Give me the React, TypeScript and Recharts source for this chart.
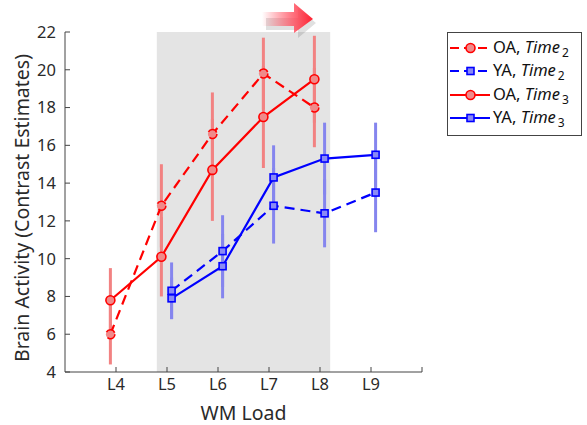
import { ComposedChart, Line, XAxis, YAxis, ErrorBar, ReferenceArea, Label } from 'recharts';

// WM load levels (OA tested on L4-L8, YA on L5-L9)
const loadsOA = [4, 5, 6, 7, 8];
const loadsYA = [5, 6, 7, 8, 9];
const xTicks = [4, 5, 6, 7, 8, 9, 10];
const yTicks = [4, 6, 8, 10, 12, 14, 16, 18, 20, 22];

// small horizontal jitter so the groups don't overlap
const oaOffset = -0.11;
const yaOffset = 0.09;

const oaTime2 = [6.0, 12.8, 16.6, 19.8, 18.0];
const oaTime2Err = [1.6, 2.2, 2.2, 1.9, 2.1];
const oaTime3 = [7.8, 10.1, 14.7, 17.5, 19.5];
const oaTime3Err = [1.7, 2.1, 2.7, 2.7, 2.3];
const yaTime2 = [8.3, 10.4, 12.8, 12.4, 13.5];
const yaTime2Err = [1.5, 1.9, 2.0, 1.8, 2.1];
const yaTime3 = [7.9, 9.6, 14.3, 15.3, 15.5];
const yaTime3Err = [1.1, 1.7, 1.7, 1.9, 1.7];

const shadeFrom = 4.8;
const shadeTo = 8.2;

const build = (loads: number[], offset: number, vals: number[], errs: number[]) =>
  loads.map((l, i) => ({ x: l + offset, y: vals[i], err: errs[i] }));

const RED = '#ff0000';
const BLUE = '#0000ff';
const RED_FILL = '#f08a8a';
const BLUE_FILL = '#8a8af5';
const RED_ERR = '#f28282';
const BLUE_ERR = '#8585ee';
const FONT = '"Noto Sans", "DejaVu Sans", sans-serif';
const TXT = '#2a2a2a';

const SquareDot = (props: any) => {
  const { cx, cy, key } = props;
  if (cx == null || cy == null) return null;
  return <rect key={key} x={cx - 3.5} y={cy - 3.5} width={7} height={7} fill={BLUE_FILL} stroke={BLUE} strokeWidth={1.6} />;
};

const YLabel = (props: any) => {
  const { x, y, height } = props.viewBox;
  const cx = x + 21;
  const cy = y + height / 2 + 6;
  return (
    <text
      x={cx}
      y={cy}
      transform={`rotate(-90 ${cx} ${cy})`}
      textAnchor="middle"
      dominantBaseline="central"
      fill={TXT}
      fontSize={19.5}
      fontFamily={FONT}
    >
      Brain Activity (Contrast Estimates)
    </text>
  );
};

const legendItems = [
  { name: 'OA', sub: '2', color: RED, fill: RED_FILL, dashed: true, square: false },
  { name: 'YA', sub: '2', color: BLUE, fill: BLUE_FILL, dashed: true, square: true },
  { name: 'OA', sub: '3', color: RED, fill: RED_FILL, dashed: false, square: false },
  { name: 'YA', sub: '3', color: BLUE, fill: BLUE_FILL, dashed: false, square: true },
];

function LegendBox() {
  return (
    <div
      style={{
        position: 'absolute',
        left: 447,
        top: 32,
        width: 135,
        height: 104,
        border: '1px solid #444',
        background: '#fff',
        fontFamily: FONT,
        fontSize: 16.5,
        color: '#111',
        boxSizing: 'border-box',
        paddingTop: 3,
      }}
    >
      {legendItems.map((it, i) => (
        <div key={i} style={{ display: 'flex', alignItems: 'center', height: 23.5 }}>
          <svg width={45} height={20} style={{ flex: 'none' }}>
            <line x1={2} y1={10} x2={42} y2={10} stroke={it.color} strokeWidth={2} strokeDasharray={it.dashed ? '9 5' : undefined} />
            {it.square ? (
              <rect x={19} y={6.5} width={7} height={7} fill={it.fill} stroke={it.color} strokeWidth={1.6} />
            ) : (
              <circle cx={22.5} cy={10} r={4.5} fill={it.fill} stroke={it.color} strokeWidth={1.6} />
            )}
          </svg>
          <span style={{ whiteSpace: 'nowrap' }}>
            {it.name}, <i>Time</i>
            <sub style={{ fontSize: 12, marginLeft: 2 }}>{it.sub}</sub>
          </span>
        </div>
      ))}
    </div>
  );
}

function Arrow() {
  return (
    <svg width={80} height={40} style={{ position: 'absolute', left: 250, top: 0 }}>
      <defs>
        <linearGradient id="arrowGrad" x1="0" y1="0" x2="1" y2="0">
          <stop offset="0%" stopColor="#ff4050" stopOpacity={0} />
          <stop offset="60%" stopColor="#ff5060" stopOpacity={0.8} />
          <stop offset="100%" stopColor="#ff2030" stopOpacity={1} />
        </linearGradient>
      </defs>
      <path d="M14 15 L46 15 L46 5 L64 20 L46 35 L46 27 L14 27 Z" fill="rgba(0,0,0,0.12)" transform="translate(2,3)" />
      <path d="M12 12 L44 12 L44 3 L63 19 L44 33 L44 26 L12 26 Z" fill="url(#arrowGrad)" />
    </svg>
  );
}

export default function App() {
  const oa2 = build(loadsOA, oaOffset, oaTime2, oaTime2Err);
  const oa3 = build(loadsOA, oaOffset, oaTime3, oaTime3Err);
  const ya2 = build(loadsYA, yaOffset, yaTime2, yaTime2Err);
  const ya3 = build(loadsYA, yaOffset, yaTime3, yaTime3Err);

  const errOnly = (data: any[], color: string, key: string) => (
    <Line key={key} data={data} dataKey="y" stroke="none" dot={false} activeDot={false} legendType="none" isAnimationActive={false}>
      <ErrorBar dataKey="err" direction="y" width={0} stroke={color} strokeWidth={3} />
    </Line>
  );

  return (
    <div style={{ position: 'absolute', left: 0, top: 0, width: 587, height: 425, background: '#fff' }}>
      <ComposedChart width={587} height={425} margin={{ top: 32, right: 165, left: 0, bottom: 0 }}>
        <ReferenceArea x1={shadeFrom} x2={shadeTo} y1={4} y2={22} fill="#e4e4e4" fillOpacity={1} stroke="none" ifOverflow="hidden" />
        <XAxis
          type="number"
          dataKey="x"
          domain={[3, 10]}
          ticks={xTicks}
          allowDataOverflow
          tickFormatter={(v) => (v === 10 ? '' : `L${v}`)}
          height={53}
          stroke="#444"
          tickSize={-5}
          tickMargin={11}
          tick={{ fill: TXT, fontSize: 16.5, fontFamily: FONT }}
          label={{ value: 'WM Load', position: 'insideBottom', offset: 5, style: { fill: TXT, fontSize: 19.5, fontFamily: FONT } }}
        />
        <YAxis
          type="number"
          domain={[4, 22]}
          ticks={yTicks}
          width={65}
          stroke="#444"
          tickSize={-5}
          tickMargin={14}
          tick={{ fill: TXT, fontSize: 16.5, fontFamily: FONT }}
        >
          <Label content={YLabel} />
        </YAxis>
        {errOnly(oa2, RED_ERR, 'e1')}
        {errOnly(oa3, RED_ERR, 'e2')}
        {errOnly(ya2, BLUE_ERR, 'e3')}
        {errOnly(ya3, BLUE_ERR, 'e4')}
        <Line data={oa2} dataKey="y" name="OA, Time2" type="linear" stroke={RED} strokeWidth={2.2} strokeDasharray="10 6" dot={{ r: 4.5, fill: RED_FILL, stroke: RED, strokeWidth: 1.6 }} isAnimationActive={false} />
        <Line data={oa3} dataKey="y" name="OA, Time3" type="linear" stroke={RED} strokeWidth={2.2} dot={{ r: 4.5, fill: RED_FILL, stroke: RED, strokeWidth: 1.6 }} isAnimationActive={false} />
        <Line data={ya2} dataKey="y" name="YA, Time2" type="linear" stroke={BLUE} strokeWidth={2.2} strokeDasharray="10 6" dot={SquareDot} isAnimationActive={false} />
        <Line data={ya3} dataKey="y" name="YA, Time3" type="linear" stroke={BLUE} strokeWidth={2.2} dot={SquareDot} isAnimationActive={false} />
      </ComposedChart>
      <Arrow />
      <LegendBox />
    </div>
  );
}
